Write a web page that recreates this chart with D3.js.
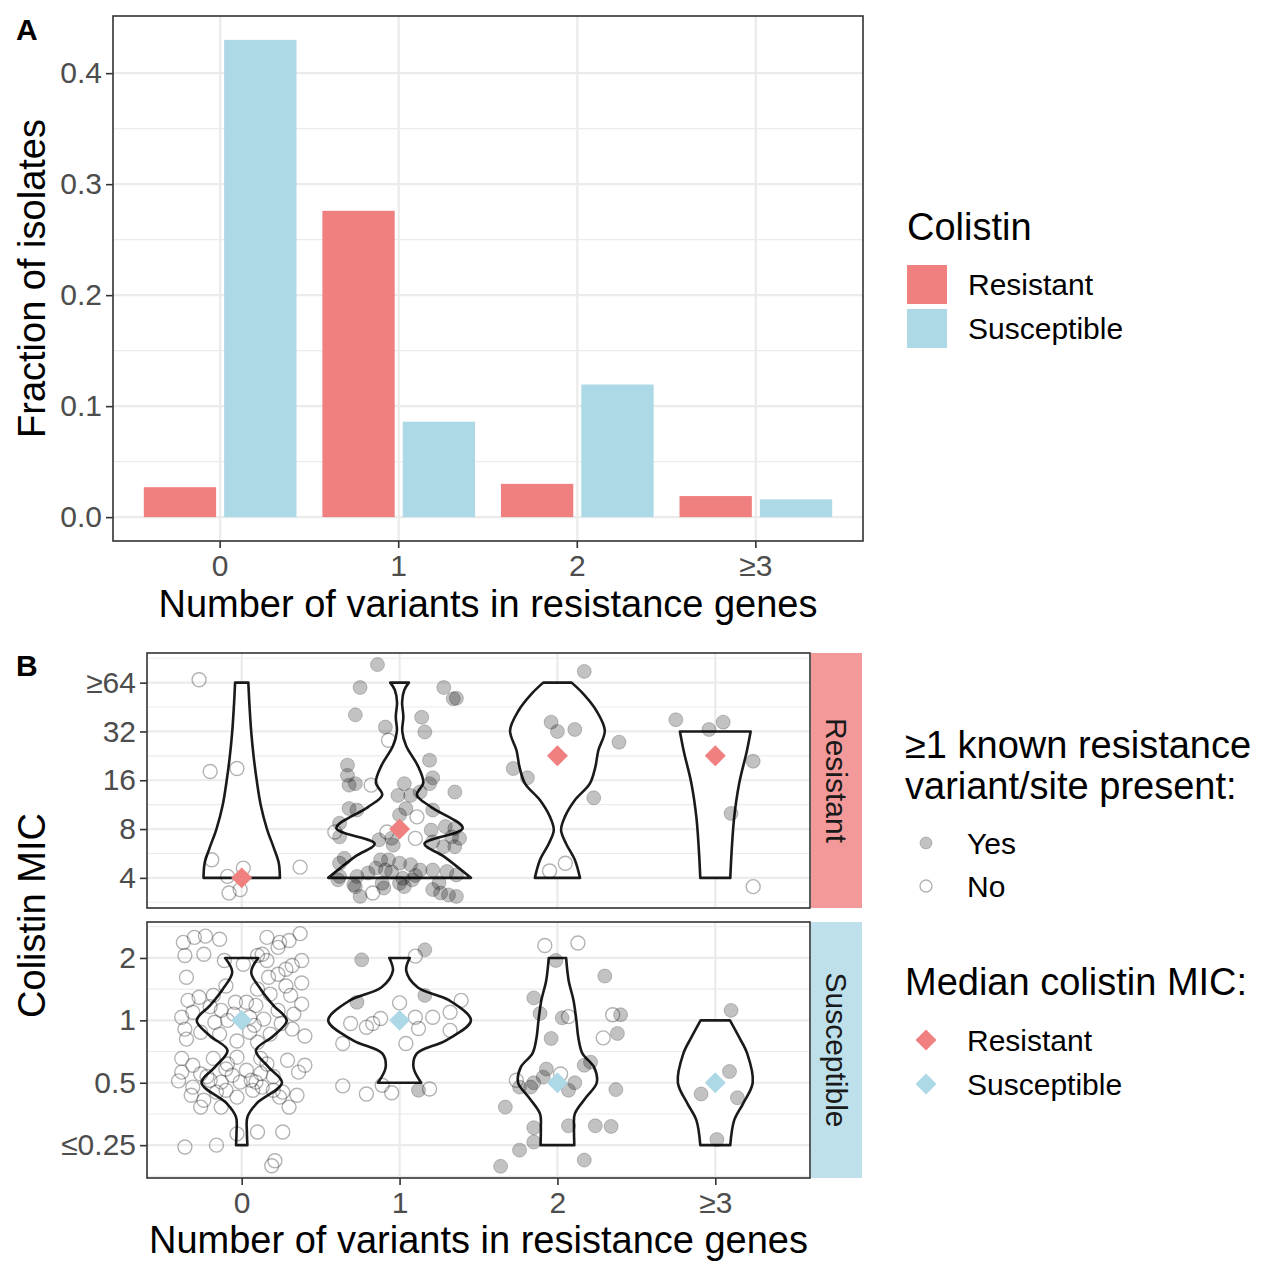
<!DOCTYPE html>
<html>
<head>
<meta charset="utf-8">
<script src="https://cdnjs.cloudflare.com/ajax/libs/d3/7.8.5/d3.min.js"></script>
<style>
  body { margin: 0; background: #fff; }
  text { font-family: "Liberation Sans", Arial, Helvetica, sans-serif; }
</style>
</head>
<body>
<div id="chart"></div>
<script>
// ---- data ----
const categories = ["0", "1", "2", "≥3"];
const groups = ["Resistant", "Susceptible"];
const groupColors = ["#F08080", "#ADD8E6"];
const stripColors = ["#F39999", "#BDE0EB"];

// panel A: fraction of isolates
const fracResistant = [0.027, 0.276, 0.030, 0.019];
const fracSusceptible = [0.430, 0.086, 0.1195, 0.016];
const fracTicks = [0, 0.1, 0.2, 0.3, 0.4];

// panel B: MIC on log2 scale
const micTicksR = [2, 3, 4, 5, 6];
const micLabelsR = ["4", "8", "16", "32", "≥64"];
const micTicksS = [-2, -1, 0, 1];
const micLabelsS = ["≤0.25", "0.5", "1", "2"];
const medianR = [2, 3, 4.5, 4.5];
const medianS = [0, 0, -1, -1];

// violin outlines: [log2 MIC, half width in category units]
const violinR = [
  [[6,0.042],[5.6,0.048],[5.0,0.06],[4.5,0.075],[4.0,0.095],[3.5,0.12],[3.0,0.16],[2.6,0.205],[2.3,0.235],[2.0,0.242]],
  [[6,0.059],[5.85,0.03],[5.6,0.016],[5.3,0.024],[5.0,0.017],[4.7,0.042],[4.3,0.115],[3.95,0.15],[3.7,0.11],[3.45,0.2],[3.02,0.40],[2.7,0.158],[2.44,0.28],[2.0,0.452]],
  [[6,0.09],[5.77,0.164],[5.43,0.246],[5.02,0.30],[4.61,0.259],[4.27,0.24],[3.93,0.205],[3.59,0.11],[3.25,0.047],[2.98,0.023],[2.7,0.055],[2.37,0.11],[2.0,0.143]],
  [[5,0.224],[4.6,0.2],[3.93,0.151],[3.25,0.12],[2.57,0.104],[2.0,0.095]]
];
const violinS = [
  [[1,0.105],[0.77,0.06],[0.5,0.12],[0.24,0.2],[0,0.285],[-0.25,0.2],[-0.48,0.09],[-0.75,0.17],[-1,0.255],[-1.33,0.095],[-1.55,0.036],[-1.8,0.033],[-2,0.036]],
  [[1,0.065],[0.8,0.042],[0.53,0.114],[0.32,0.315],[0,0.452],[-0.32,0.295],[-0.53,0.11],[-0.75,0.088],[-1,0.137]],
  [[1,0.055],[0.64,0.071],[0.32,0.102],[0,0.12],[-0.27,0.132],[-0.53,0.158],[-0.75,0.232],[-1,0.249],[-1.23,0.183],[-1.5,0.11],[-1.71,0.105],[-2,0.107]],
  [[0,0.093],[-0.27,0.151],[-0.53,0.202],[-1,0.237],[-1.33,0.177],[-1.6,0.12],[-2,0.095]]
];

// jittered isolates: [offset from category, log2 MIC, resistance variant present (1) or not (0)]
const pointsR = [
  [[-0.27,6.06,0],[-0.20,4.18,0],[-0.03,4.24,0],[-0.19,2.37,0],[-0.09,2.03,0],[0.01,2.2,0],[-0.08,1.69,0],[-0.01,1.76,0],[0.37,2.22,0]],
  [[-0.14,6.37,1],[-0.25,5.90,1],[0.28,5.90,1],[0.34,5.67,1],[0.36,5.68,1],[-0.28,5.34,1],[0.14,5.29,1],[-0.09,5.09,1],[0.16,4.99,1],
   [0.19,4.41,1],[-0.33,4.31,1],[-0.33,4.10,1],[0.21,4.05,1],[-0.32,3.90,1],[-0.28,3.93,1],[0.03,3.93,1],[0.19,3.93,1],[0.35,3.76,1],
   [-0.01,3.69,1],[0.07,3.69,1],[0.13,3.76,1],[-0.32,3.42,1],[-0.27,3.39,1],[0.04,3.42,1],[0.0,3.29,1],[0.21,3.39,1],[-0.38,3.12,1],
   [0.2,2.98,1],[0.29,3.05,1],[0.35,3.01,1],[0.33,2.84,1],[0.38,2.81,1],[-0.13,2.78,1],[-0.04,2.67,1],[-0.05,2.81,1],[0.21,2.74,1],
   [0.28,2.64,1],[0.35,2.64,1],[-0.35,2.4,1],[-0.38,2.3,1],[-0.12,2.37,1],[-0.07,2.37,1],[0.0,2.3,1],[-0.15,2.2,1],[-0.09,2.16,1],
   [0.07,2.27,1],[0.13,2.16,1],[0.21,2.16,1],[0.3,2.13,1],[0.36,2.06,1],[-0.38,2.03,1],[-0.27,2.03,1],[0.02,1.99,1],[0.0,1.89,1],
   [0.03,1.82,1],[-0.28,1.82,1],[-0.11,1.89,1],[0.21,1.76,1],[0.26,1.69,1],[0.31,1.65,1],[0.36,1.62,1],[-0.10,1.79,1],[0.08,1.96,1],
   [-0.38,2.84,1],[-0.39,1.96,1],[-0.29,1.86,1],[-0.25,1.62,1],[-0.2,2.1,1],[0.1,2.05,1],[-0.05,2.12,1],[0.25,1.9,1],
   [-0.07,4.82,0],[-0.18,3.90,0],[0.11,3.25,0],[-0.41,2.94,0],[-0.08,2.94,0],[0.10,2.81,0],[-0.17,1.69,0]],
  [[0.17,6.23,1],[-0.04,5.19,1],[0.0,5.0,1],[0.11,5.04,1],[0.39,4.78,1],[-0.28,4.24,1],[-0.19,4.05,1],[0.23,3.64,1],
   [-0.05,2.14,0],[0.05,2.3,0]],
  [[-0.25,5.24,1],[-0.04,5.04,1],[0.05,5.19,1],[0.24,4.39,1],[0.10,3.32,1],[0.24,1.82,0]]
];
const pointsS = [
  [[-0.37,1.25,0],[-0.30,1.33,0],[-0.23,1.35,0],[-0.14,1.30,0],[-0.36,1.04,0],[0.16,1.33,0],[0.24,1.25,0],[0.30,1.28,0],[0.37,1.39,0],
   [0.23,1.17,0],[0.13,1.06,0],[0.10,1.04,0],[-0.24,1.06,0],[-0.11,0.96,0],[0.01,0.90,0],[0.16,0.96,0],[0.32,0.88,0],[0.38,0.96,0],
   [-0.35,0.69,0],[0.17,0.69,0],[0.23,0.74,0],[0.28,0.82,0],[0.38,0.6,0],[0.1,0.5,0],[-0.1,0.55,0],[0.28,0.55,0],[-0.18,0.40,0],
   [-0.34,0.32,0],[-0.27,0.37,0],[0.18,0.42,0],[0.31,0.40,0],[0.38,0.26,0],[-0.04,0.29,0],[0.03,0.29,0],[0.09,0.24,0],[-0.2,0.22,0],
   [-0.13,0.16,0],[-0.31,0.13,0],[0.23,0.16,0],[0.33,0.10,0],[-0.05,0.1,0],[0.05,0.05,0],[-0.09,0.0,0],[-0.17,-0.03,0],[0.14,0.02,0],
   [0.08,-0.08,0],[0.25,-0.05,0],[-0.38,0.05,0],[-0.36,-0.14,0],[-0.26,-0.19,0],[-0.35,-0.30,0],[-0.14,-0.22,0],[0.05,-0.19,0],
   [0.18,-0.22,0],[0.32,-0.14,0],[0.40,-0.25,0],[-0.03,-0.33,0],[0.10,-0.35,0],[-0.38,-0.61,0],[-0.31,-0.72,0],[-0.38,-0.83,0],
   [-0.18,-0.61,0],[-0.09,-0.70,0],[-0.03,-0.59,0],[0.12,-0.61,0],[0.16,-0.70,0],[0.29,-0.64,0],[0.36,-0.83,0],[0.40,-0.72,0],
   [0.03,-0.8,0],[-0.1,-0.78,0],[0.12,-0.85,0],[-0.22,-0.9,0],[0.2,-0.9,0],[-0.4,-0.97,0],[-0.26,-0.86,0],[-0.20,-0.96,0],
   [-0.13,-0.99,0],[-0.06,-0.88,0],[-0.01,-0.99,0],[0.06,-0.96,0],[0.09,-0.99,0],[0.13,-1.07,0],[-0.31,-1.07,0],[-0.32,-1.20,0],
   [-0.24,-1.28,0],[-0.16,-1.15,0],[-0.10,-1.12,0],[-0.03,-1.23,0],[0.07,-1.12,0],[0.20,-1.12,0],[0.26,-1.15,0],[0.24,-1.23,0],
   [0.35,-1.20,0],[0.30,-1.39,0],[-0.26,-1.39,0],[-0.13,-1.39,0],[-0.03,-1.82,0],[0.10,-1.79,0],[0.26,-1.79,0],[-0.36,-2.03,0],
   [-0.16,-2.0,0],[0.19,-2.33,0],[0.21,-2.25,0]],
  [[-0.24,0.97,1],[0.16,1.13,1],[0.16,0.40,1],[-0.27,0.29,1],[0.12,-1.12,1],
   [0.10,1.03,0],[0.0,0.28,0],[0.39,0.32,0],[0.21,0.05,0],[0.32,0.13,0],[-0.31,-0.05,0],[-0.21,-0.11,0],[-0.17,-0.05,0],[-0.12,0.03,0],
   [0.10,0.05,0],[0.12,-0.13,0],[0.32,-0.16,0],[-0.36,-0.37,0],[0.04,-0.37,0],[-0.36,-1.05,0],[-0.21,-1.18,0],[-0.05,-1.16,0],
   [-0.11,-1.04,0],[0.19,-1.10,0]],
  [[-0.08,1.20,0],[0.13,1.24,0],[0.07,0.06,0],[0.35,0.09,0],[0.29,-0.28,0],[-0.26,-0.96,0],[0.02,-0.86,0],
   [-0.01,0.96,1],[0.30,0.71,1],[-0.15,0.36,1],[-0.11,0.11,1],[0.03,0.04,1],[0.40,0.09,1],[0.38,-0.21,1],[-0.04,-0.29,1],
   [-0.07,-0.78,1],[0.17,-0.72,1],[0.21,-0.67,1],[-0.15,-1.0,1],[-0.24,-1.07,1],[-0.17,-1.07,1],[-0.09,-0.91,1],[0.11,-1.0,1],
   [0.07,-1.12,1],[0.37,-1.11,1],[-0.33,-1.39,1],[-0.15,-1.72,1],[0.07,-1.69,1],[0.24,-1.69,1],[0.34,-1.70,1],[-0.15,-1.95,1],
   [-0.24,-2.08,1],[-0.36,-2.34,1],[0.17,-2.24,1]],
  [[0.10,0.16,1],[0.09,-0.82,1],[-0.09,-1.18,1],[0.14,-1.24,1],[0.01,-1.91,1]]
];

// ---- layout ----
var W = 1280, H = 1279;
var baseFont = 38, smallFont = 30;
var gridCol = "#EBEBEB", borderCol = "#333333", tickTextCol = "#4D4D4D";
var ptRadius = 7;

var svg = d3.select("#chart").append("svg")
  .attr("width", W).attr("height", H)
  .style("display", "block");

// style axis ticks like ggplot theme_bw
function styleAxis(ax) {
  ax.select(".domain").remove();
  ax.selectAll(".tick line").attr("stroke", borderCol).attr("stroke-width", 1.6);
  ax.selectAll(".tick text").attr("fill", tickTextCol)
    .style("font-size", smallFont + "px").style("font-family", "Liberation Sans, Arial, sans-serif");
}

// ================= PANEL A =================
var pA = {left: 113, right: 863, top: 16, bottom: 541};

var xA = d3.scaleBand().domain(categories)
  .range([pA.left, pA.right]).paddingInner(0.1).paddingOuter(0.15);
var xGroup = d3.scaleBand().domain(groups)
  .range([0, xA.bandwidth()]).paddingInner(0.1).paddingOuter(0.05);
var yMax = d3.max(fracSusceptible.concat(fracResistant));
var yA = d3.scaleLinear()
  .domain([-0.05 * yMax, yMax * 1.05])
  .range([pA.bottom, pA.top]);

var gA = svg.append("g");

// grid (minor then major)
var minorA = d3.range(0.05, 0.45, 0.1);
gA.selectAll(".minorA").data(minorA).enter().append("line")
  .attr("x1", pA.left).attr("x2", pA.right)
  .attr("y1", d => yA(d)).attr("y2", d => yA(d))
  .attr("stroke", gridCol).attr("stroke-width", 1.1);
gA.selectAll(".majorA").data(fracTicks).enter().append("line")
  .attr("x1", pA.left).attr("x2", pA.right)
  .attr("y1", d => yA(d)).attr("y2", d => yA(d))
  .attr("stroke", gridCol).attr("stroke-width", 2.2);
gA.selectAll(".vgridA").data(categories).enter().append("line")
  .attr("x1", d => xA(d) + xA.bandwidth() / 2).attr("x2", d => xA(d) + xA.bandwidth() / 2)
  .attr("y1", pA.top).attr("y2", pA.bottom)
  .attr("stroke", gridCol).attr("stroke-width", 2.2);

// bars
var barData = [];
categories.forEach(function(c, i) {
  barData.push({cat: c, grp: groups[0], val: fracResistant[i]});
  barData.push({cat: c, grp: groups[1], val: fracSusceptible[i]});
});
gA.selectAll(".bar").data(barData).enter().append("rect")
  .attr("x", d => xA(d.cat) + xGroup(d.grp))
  .attr("width", xGroup.bandwidth())
  .attr("y", d => yA(d.val))
  .attr("height", d => yA(0) - yA(d.val))
  .attr("fill", d => groupColors[groups.indexOf(d.grp)]);

// border
gA.append("rect")
  .attr("x", pA.left).attr("y", pA.top)
  .attr("width", pA.right - pA.left).attr("height", pA.bottom - pA.top)
  .attr("fill", "none").attr("stroke", borderCol).attr("stroke-width", 1.6);

// axes
styleAxis(gA.append("g").attr("transform", "translate(" + pA.left + ",0)")
  .call(d3.axisLeft(yA).tickValues(fracTicks).tickFormat(d3.format(".1f")).tickSize(7).tickPadding(4)));
styleAxis(gA.append("g").attr("transform", "translate(0," + pA.bottom + ")")
  .call(d3.axisBottom(xA).tickSize(7).tickPadding(7)));

gA.append("text").attr("x", (pA.left + pA.right) / 2).attr("y", 617)
  .attr("text-anchor", "middle").style("font-size", baseFont + "px")
  .text("Number of variants in resistance genes");
gA.append("text")
  .attr("transform", "translate(45," + ((pA.top + pA.bottom) / 2) + ") rotate(-90)")
  .attr("text-anchor", "middle").style("font-size", baseFont + "px")
  .text("Fraction of isolates");
gA.append("text").attr("x", 16).attr("y", 40)
  .style("font-size", "30px").style("font-weight", "bold").text("A");

// legend A
var legA = svg.append("g").attr("transform", "translate(907,0)");
legA.append("text").attr("x", 0).attr("y", 240).style("font-size", baseFont + "px").text("Colistin");
legA.selectAll(".keyA").data(groups).enter().append("rect")
  .attr("x", 0).attr("y", (d, i) => 265 + i * 44)
  .attr("width", 40).attr("height", 39)
  .attr("fill", (d, i) => groupColors[i]);
legA.selectAll(".labA").data(groups).enter().append("text")
  .attr("x", 61).attr("y", (d, i) => 295 + i * 44)
  .style("font-size", smallFont + "px").text(d => d);

// ================= PANEL B =================
var pB = {left: 147, right: 810};
var facets = [
  {name: "Resistant", top: 653, bottom: 908, ticks: micTicksR, labels: micLabelsR,
   pts: pointsR, vio: violinR, med: medianR, color: groupColors[0], strip: stripColors[0]},
  {name: "Susceptible", top: 922, bottom: 1178, ticks: micTicksS, labels: micLabelsS,
   pts: pointsS, vio: violinS, med: medianS, color: groupColors[1], strip: stripColors[1]}
];
var xB = d3.scalePoint().domain(categories).range([pB.left, pB.right]).padding(0.6);
var stepB = xB.step();

facets.forEach(function(f) {
  var allY = [];
  f.pts.forEach(arr => arr.forEach(p => allY.push(p[1])));
  f.vio.forEach(arr => arr.forEach(p => allY.push(p[0])));
  var ext = d3.extent(allY), pad = 0.05 * (ext[1] - ext[0]);
  var y = d3.scaleLinear().domain([ext[0] - pad, ext[1] + pad]).range([f.bottom, f.top]);
  var g = svg.append("g");

  // grid
  var minor = d3.range(Math.ceil(ext[0] - pad) - 0.5, ext[1] + pad, 1)
    .filter(v => v > ext[0] - pad && v < ext[1] + pad);
  g.selectAll(".minor").data(minor).enter().append("line")
    .attr("x1", pB.left).attr("x2", pB.right)
    .attr("y1", d => y(d)).attr("y2", d => y(d))
    .attr("stroke", gridCol).attr("stroke-width", 1.1);
  g.selectAll(".major").data(f.ticks).enter().append("line")
    .attr("x1", pB.left).attr("x2", pB.right)
    .attr("y1", d => y(d)).attr("y2", d => y(d))
    .attr("stroke", gridCol).attr("stroke-width", 2.2);
  g.selectAll(".vgrid").data(categories).enter().append("line")
    .attr("x1", d => xB(d)).attr("x2", d => xB(d))
    .attr("y1", f.top).attr("y2", f.bottom)
    .attr("stroke", gridCol).attr("stroke-width", 2.2);

  // violins
  f.vio.forEach(function(prof, i) {
    var cx = xB(categories[i]);
    var area = d3.area().curve(d3.curveCatmullRom.alpha(0.5))
      .y(d => y(d[0]))
      .x0(d => cx - d[1] * stepB)
      .x1(d => cx + d[1] * stepB);
    g.append("path").datum(prof).attr("d", area)
      .attr("fill", "#fff").attr("stroke", "#1a1a1a").attr("stroke-width", 2.6)
      .attr("stroke-linejoin", "round");
  });

  // points
  f.pts.forEach(function(arr, i) {
    var cx = xB(categories[i]);
    g.selectAll(".pt" + i).data(arr).enter().append("circle")
      .attr("cx", d => cx + d[0] * stepB)
      .attr("cy", d => y(d[1]))
      .attr("r", ptRadius)
      .attr("fill", d => d[2] ? "rgba(0,0,0,0.24)" : "none")
      .attr("stroke", d => d[2] ? "rgba(0,0,0,0.2)" : "rgba(0,0,0,0.3)")
      .attr("stroke-width", d => d[2] ? 1 : 1.4);
  });

  // medians
  g.selectAll(".med").data(f.med).enter().append("path")
    .attr("d", d3.symbol(d3.symbolSquare, 220))
    .attr("transform", (d, i) => "translate(" + xB(categories[i]) + "," + y(d) + ") rotate(45)")
    .attr("fill", f.color);

  // border
  g.append("rect").attr("x", pB.left).attr("y", f.top)
    .attr("width", pB.right - pB.left).attr("height", f.bottom - f.top)
    .attr("fill", "none").attr("stroke", borderCol).attr("stroke-width", 1.6);

  // strip
  g.append("rect").attr("x", pB.right + 1).attr("y", f.top)
    .attr("width", 51).attr("height", f.bottom - f.top).attr("fill", f.strip);
  g.append("text")
    .attr("transform", "translate(" + (pB.right + 26.5) + "," + ((f.top + f.bottom) / 2) + ") rotate(90)")
    .attr("text-anchor", "middle").attr("dy", "0.35em")
    .attr("fill", "#1A1A1A").style("font-size", smallFont + "px").text(f.name);

  // y axis
  styleAxis(g.append("g").attr("transform", "translate(" + pB.left + ",0)")
    .call(d3.axisLeft(y).tickValues(f.ticks).tickFormat((d, i) => f.labels[i]).tickSize(7).tickPadding(4)));
});

// x axis for panel B
styleAxis(svg.append("g").attr("transform", "translate(0," + facets[1].bottom + ")")
  .call(d3.axisBottom(xB).tickSize(7).tickPadding(7)));

svg.append("text").attr("x", (pB.left + pB.right) / 2).attr("y", 1253)
  .attr("text-anchor", "middle").style("font-size", baseFont + "px")
  .text("Number of variants in resistance genes");
svg.append("text")
  .attr("transform", "translate(45," + ((facets[0].top + facets[1].bottom) / 2) + ") rotate(-90)")
  .attr("text-anchor", "middle").style("font-size", baseFont + "px")
  .text("Colistin MIC");
svg.append("text").attr("x", 16).attr("y", 676)
  .style("font-size", "30px").style("font-weight", "bold").text("B");

// legend B
var legB = svg.append("g").attr("transform", "translate(905,0)");
legB.append("text").attr("x", 0).attr("y", 758).style("font-size", baseFont + "px").text("≥1 known resistance");
legB.append("text").attr("x", 0).attr("y", 799).style("font-size", baseFont + "px").text("variant/site present:");
var yesNo = [{lab: "Yes", fill: 1}, {lab: "No", fill: 0}];
legB.selectAll(".kB").data(yesNo).enter().append("circle")
  .attr("cx", 21).attr("cy", (d, i) => 843 + i * 43).attr("r", 6)
  .attr("fill", d => d.fill ? "rgba(0,0,0,0.24)" : "none")
  .attr("stroke", d => d.fill ? "rgba(0,0,0,0.2)" : "rgba(0,0,0,0.3)")
  .attr("stroke-width", d => d.fill ? 1 : 1.4);
legB.selectAll(".lB").data(yesNo).enter().append("text")
  .attr("x", 62).attr("y", (d, i) => 854 + i * 43)
  .style("font-size", smallFont + "px").text(d => d.lab);

legB.append("text").attr("x", 0).attr("y", 995).style("font-size", baseFont + "px").text("Median colistin MIC:");
legB.selectAll(".kM").data(groups).enter().append("path")
  .attr("d", d3.symbol(d3.symbolSquare, 220))
  .attr("transform", (d, i) => "translate(21," + (1040 + i * 44) + ") rotate(45)")
  .attr("fill", (d, i) => groupColors[i]);
legB.selectAll(".lM").data(groups).enter().append("text")
  .attr("x", 62).attr("y", (d, i) => 1051 + i * 44)
  .style("font-size", smallFont + "px").text(d => d);
</script>
</body>
</html>
